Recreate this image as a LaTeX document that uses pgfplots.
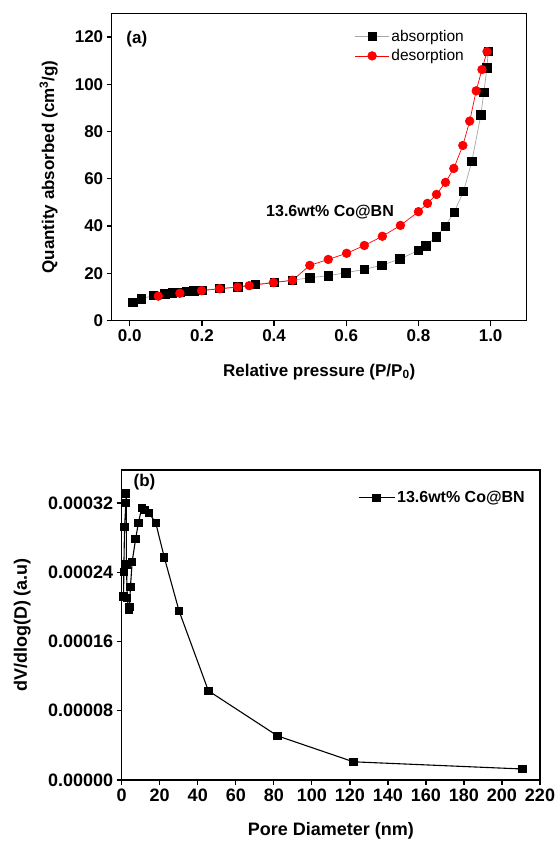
\documentclass[border=0pt]{standalone}
\usepackage{pgfplots}
\pgfplotsset{compat=1.18}
\usepackage{fontspec}
\setmainfont{Liberation Sans}

\begin{document}
\begin{tikzpicture}
\useasboundingbox (0pt,0pt) rectangle (558pt,845pt);
% ---------------- panel (a) ----------------
\begin{axis}[
  at={(111.7pt,524.3pt)}, anchor=south west,
  scale only axis, width=415pt, height=307.4pt,
  xmin=-0.05, xmax=1.1, ymin=0, ymax=130,
  xtick={0,0.2,0.4,0.6,0.8,1.0},
  xticklabels={0.0,0.2,0.4,0.6,0.8,1.0},
  ytick={0,20,40,60,80,100,120},
  yticklabels={0,20,40,60,80,100,120},
  xtick pos=left, ytick pos=left,
  tick align=outside, major tick length=5pt,
  axis line style={line width=1.3pt},
  every tick/.style={line width=1.3pt, black},
  tick label style={font=\bfseries\fontsize{17}{20}\selectfont},
  xlabel={\bfseries Relative pressure (P/P\textsubscript{0})},
  ylabel={\bfseries Quantity absorbed (cm\textsuperscript{3}/g)},
  label style={font=\bfseries\fontsize{17}{20}\selectfont},
  xlabel style={at={(axis description cs:0.5,-0.166)}, anchor=center},
  ylabel style={at={(axis description cs:-0.152,0.5)}, anchor=center, rotate=0},
  legend style={at={(axis description cs:0.578,0.96)}, anchor=north west,
    draw=none, fill=none, font=\fontsize{15.5}{18}\selectfont, row sep=3pt},
  legend cell align=left,
  legend image code/.code={\draw[mark repeat=2,mark phase=2] plot coordinates {(0pt,0pt) (17pt,0pt) (34pt,0pt)};},
]
\addplot[gray!70, line width=0.7pt, mark=square*, mark size=4.2pt,
  mark options={fill=black, draw=black, solid}] coordinates {
(0.009,7.8) (0.032,9.3) (0.065,10.6) (0.097,11.3) (0.118,11.7) (0.14,12.0)
(0.157,12.3) (0.178,12.7) (0.2,12.9) (0.25,13.6) (0.3,14.3) (0.348,15.4)
(0.4,16.2) (0.451,17.1) (0.499,18.2) (0.55,19.0) (0.599,20.3) (0.65,21.7)
(0.699,23.5) (0.749,26.1) (0.799,29.7) (0.82,31.7) (0.849,35.5) (0.874,39.9)
(0.899,45.9) (0.925,54.7) (0.948,67.5) (0.973,87.0) (0.981,96.5) (0.99,106.9)
(0.993,113.8)
};
\addlegendentry{absorption}
\addplot[red, line width=0.7pt, mark=*, mark size=4.3pt,
  mark options={fill=red, draw=red, solid}] coordinates {
(0.079,10.4) (0.139,11.6) (0.199,12.7) (0.249,13.5) (0.299,14.2) (0.331,14.8)
(0.398,16.1) (0.451,17.1) (0.499,23.4) (0.55,25.9) (0.601,28.5) (0.65,31.8)
(0.7,35.7) (0.75,40.3) (0.8,46.1) (0.825,49.6) (0.85,53.4) (0.875,58.5)
(0.898,64.4) (0.923,74.1) (0.942,84.4) (0.96,97.2) (0.976,106.2) (0.99,113.8)
};
\addlegendentry{desorption}
\node[anchor=west, font=\bfseries\fontsize{17}{20}\selectfont] at (axis description cs:0.027,0.916) {(a)};
\node[font=\bfseries\fontsize{16}{19}\selectfont] at (axis cs:0.555,45.9) {13.6wt\% Co@BN};
\end{axis}
% ---------------- panel (b) ----------------
\begin{axis}[
  at={(121.7pt,65pt)}, anchor=south west,
  scale only axis, width=418.3pt, height=310pt,
  xmin=0, xmax=220, ymin=0, ymax=0.000358,
  xtick={0,20,40,60,80,100,120,140,160,180,200,220},
  xticklabels={0,20,40,60,80,100,120,140,160,180,200,220},
  ytick={0,0.00008,0.00016,0.00024,0.00032},
  yticklabels={0.00000,0.00008,0.00016,0.00024,0.00032},
  scaled y ticks=false,
  xtick pos=left, ytick pos=left,
  tick align=outside, major tick length=5pt,
  axis line style={line width=1.3pt},
  every tick/.style={line width=1.3pt, black},
  tick label style={font=\bfseries\fontsize{18}{21}\selectfont},
  xlabel={\bfseries Pore Diameter (nm)},
  ylabel={\bfseries dV/dlog(D) (a.u)},
  label style={font=\bfseries\fontsize{18}{21}\selectfont},
  xlabel style={at={(axis description cs:0.5,-0.165)}, anchor=center},
  ylabel style={at={(axis description cs:-0.238,0.5)}, anchor=center, rotate=0},
  legend style={at={(axis description cs:0.976,0.945)}, anchor=north east,
    draw=none, fill=none, font=\bfseries\fontsize{16}{19}\selectfont},
  legend image code/.code={\draw[mark repeat=2,mark phase=2] plot coordinates {(0pt,0pt) (18pt,0pt) (36pt,0pt)};},
]
\addplot[black, line width=1.1pt, mark=square*, mark size=3.6pt,
  mark options={fill=black, solid}] coordinates {
(1.0,0.000212) (1.1,0.000240) (1.5,0.000292) (2.2,0.000320) (2.4,0.000331)
(2.5,0.000249) (2.9,0.000210) (3.8,0.000196) (4.1,0.000200) (4.6,0.000223)
(5.5,0.000252) (7.3,0.000278) (8.8,0.000297) (10.5,0.000314) (12.3,0.000312)
(14.5,0.000308) (17.9,0.000297) (22.4,0.000257) (30.2,0.000195) (45.6,0.000103)
(81.9,0.000051) (121.9,0.000021) (210.8,0.0000127)
};
\addlegendentry{13.6wt\% Co@BN}
\node[anchor=west, font=\bfseries\fontsize{17}{20}\selectfont] at (axis description cs:0.02,0.96) {(b)};
\end{axis}
\end{tikzpicture}
\end{document}
